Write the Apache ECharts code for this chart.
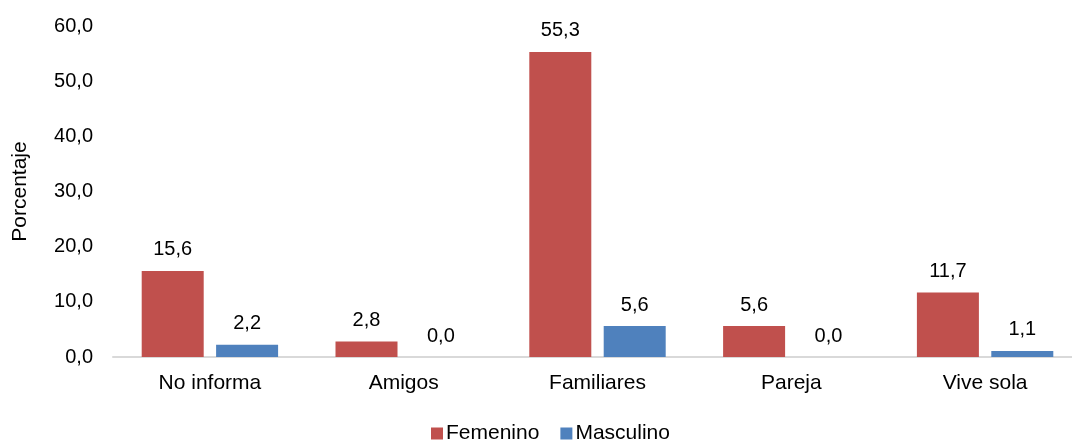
<!DOCTYPE html>
<html>
<head>
<meta charset="utf-8">
<script src="https://cdn.jsdelivr.net/npm/echarts@6/dist/echarts.min.js"></script>
<style>html,body{margin:0;padding:0;background:#fff}#c{width:1072px;height:441px}</style>
</head>
<body>
<div id="c"></div>
<script>
const categories = ['No informa', 'Amigos', 'Familiares', 'Pareja', 'Vive sola'];
const femenino = [15.6, 2.8, 55.3, 5.6, 11.7];
const masculino = [2.2, 0.0, 5.6, 0.0, 1.1];
const seriesNames = ['Femenino', 'Masculino'];
const yTicks = { min: 0, max: 60, interval: 10 };

const font = '"Liberation Sans", Arial, Helvetica, sans-serif';
const fmt = v => v.toFixed(1).replace('.', ',');
const chart = echarts.init(document.getElementById('c'), null, { renderer: 'canvas' });
const labelCfg = {
  show: true, position: 'top', distance: 11,
  fontFamily: font, fontSize: 20, color: '#000',
  formatter: p => fmt(p.value)
};
chart.setOption({
  animation: false,
  textStyle: { fontFamily: font },
  grid: { left: 113, top: 26, width: 969, height: 331, containLabel: false, outerBoundsMode: 'none' },
  legend: {
    top: 423, left: 431, padding: 0,
    itemWidth: 12, itemHeight: 12, itemGap: 21,
    icon: 'rect',
    textStyle: { fontFamily: font, fontSize: 21, color: '#000', padding: [0, 0, 0, -2] },
    data: seriesNames
  },
  xAxis: {
    type: 'category', data: categories,
    axisLine: { lineStyle: { color: '#D9D9D9', width: 2 } },
    axisTick: { show: false },
    axisLabel: { fontFamily: font, fontSize: 21, color: '#000', margin: 16 }
  },
  yAxis: {
    type: 'value', min: yTicks.min, max: yTicks.max, interval: yTicks.interval,
    name: 'Porcentaje', nameLocation: 'middle', nameGap: 82, nameRotate: 90,
    nameTextStyle: { fontFamily: font, fontSize: 21, color: '#000' },
    axisLine: { show: false }, axisTick: { show: false },
    splitLine: { show: false },
    axisLabel: { fontFamily: font, fontSize: 20, color: '#000', margin: 20, formatter: v => fmt(v) }
  },
  series: [
    { name: seriesNames[0], type: 'bar', data: femenino, barWidth: 62, barGap: '20%',
      itemStyle: { color: '#C0504D' }, label: labelCfg },
    { name: seriesNames[1], type: 'bar', data: masculino, barWidth: 62, barGap: '20%',
      itemStyle: { color: '#4F81BD' }, label: labelCfg }
  ]
});
</script>
</body>
</html>
